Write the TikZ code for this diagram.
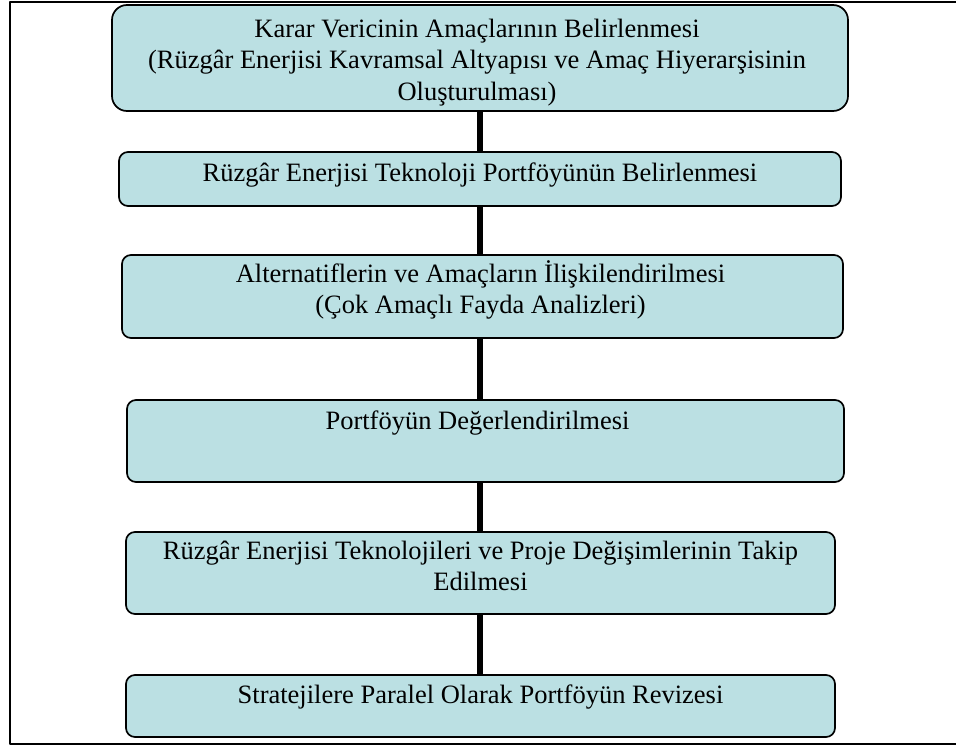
\documentclass[tikz,border=0pt]{standalone}
\usepackage{fontspec}
\setmainfont{Liberation Serif}
\definecolor{kutumavi}{RGB}{187,224,227}
\begin{document}
\begin{tikzpicture}[x=1pt,y=-1pt,line join=round,
    kutu/.style={draw=black,line width=1.7pt,fill=kutumavi,rounded corners=9pt,inner sep=0pt},
    yazi/.style={anchor=base,align=center,inner sep=0pt,font=\fontsize{26.5}{31.5}\selectfont},
    bag/.style={line width=5.5pt}]
    \useasboundingbox (0,0) rectangle (956,747);
    \draw[line width=2pt] (956,1.5)--(10,1.5)--(10,744)--(956,744);
    % kutular
    \node[kutu,rounded corners=15pt,minimum width=736pt,minimum height=106pt] (amac) at (480,58) {};
    \node[kutu,minimum width=722pt,minimum height=54pt] (portfoy) at (480,179) {};
    \node[kutu,minimum width=721pt,minimum height=83pt] (iliski) at (482.5,296.5) {};
    \node[kutu,minimum width=717pt,minimum height=82pt] (deger) at (485.5,441) {};
    \node[kutu,minimum width=709pt,minimum height=82pt] (takip) at (480.5,573) {};
    \node[kutu,minimum width=709pt,minimum height=62pt] (revize) at (480.5,706) {};
    % yazilar (base = son satir)
    \node[yazi] (amacY) at ([xshift=-3pt,yshift=-96pt]amac.north) {Karar Vericinin Amaçlarının Belirlenmesi\\(Rüzgâr Enerjisi Kavramsal Altyapısı ve Amaç Hiyerarşisinin\\Oluşturulması)};
    \node[yazi] (portfoyY) at ([yshift=-30pt]portfoy.north) {Rüzgâr Enerjisi Teknoloji Portföyünün Belirlenmesi};
    \node[yazi] (iliskiY) at ([xshift=-2pt,yshift=-59.5pt]iliski.north) {Alternatiflerin ve Amaçların İlişkilendirilmesi\\(Çok Amaçlı Fayda Analizleri)};
    \node[yazi] (degerY) at ([xshift=-8pt,yshift=-30pt]deger.north) {Portföyün Değerlendirilmesi};
    \node[yazi] (takipY) at ([yshift=-59.5pt]takip.north) {Rüzgâr Enerjisi Teknolojileri ve Proje Değişimlerinin Takip\\Edilmesi};
    \node[yazi] (revizeY) at ([yshift=-29pt]revize.north) {Stratejilere Paralel Olarak Portföyün Revizesi};
    % baglar
    \foreach \a/\b in {amac/portfoy,portfoy/iliski,iliski/deger,deger/takip,takip/revize}
        \draw[bag] (amac.south |- \a.south) -- (amac.south |- \b.north);
\end{tikzpicture}
\end{document}
